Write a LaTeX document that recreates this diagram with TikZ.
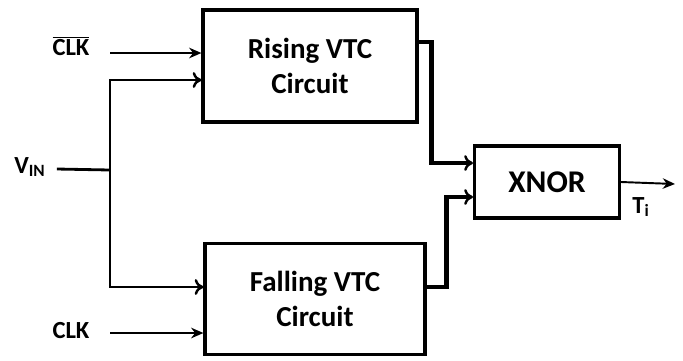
\documentclass[tikz,border=0pt]{standalone}
\usepackage{fontspec}
\setmainfont{Carlito}
\usetikzlibrary{arrows.meta}

\tikzset{
  block/.style={draw, line width=1.8pt, align=center, font=\fontsize{16.5}{20}\selectfont\bfseries},
  lbl/.style={font=\fontsize{14}{16}\selectfont\bfseries, inner sep=1pt},
  wire/.style={line width=1.6pt},
  sig/.style={line width=1.6pt, -{Stealth[length=7pt,width=6pt]}},
  open/.style={line width=1.6pt, -{To[length=5pt,width=9pt,line width=1.4pt]}},
  bus/.style={line width=2.6pt, -{To[length=5pt,width=9pt,line width=1.4pt]}}
}

\begin{document}
\begin{tikzpicture}[x=0.02cm, y=-0.02cm]
  \useasboundingbox (0,0) rectangle (683,360);

  % the three blocks
  \node[block, minimum width=4.28cm, minimum height=2.24cm] (rising) at (310,66) {Rising VTC\\Circuit};
  \node[block, minimum width=4.4cm, minimum height=2.22cm] (falling) at (315,299) {Falling VTC\\Circuit};
  \node[block, minimum width=2.9cm, minimum height=1.44cm, font=\fontsize{18}{20}\selectfont\bfseries] (xnor) at (547,182) {XNOR};

  % input labels
  \node[lbl] (clkbar) at (71,46) {$\overline{\mbox{\bfseries CLK}}$};
  \node[lbl] (vin) at (30,167) {V\textsubscript{IN}};
  \node[lbl] (clk) at (71,331) {CLK};
  \node[lbl] (ti) at (641,207) {T\textsubscript{i}};

  % clock inputs
  \coordinate (clkbarin) at (110,53);
  \coordinate (clkin) at (110,333);
  \draw[sig] (clkbarin) -- (rising.west |- clkbarin);
  \draw[sig] (clkin) -- (falling.west |- clkin);

  % V_IN split to both blocks
  \coordinate (split) at (110,170);
  \draw[wire] (vin.east) ++(9,2) -- (split);
  \draw[open] (split) |- ([yshift=-0.28cm]rising.west);
  \draw[open] (split) |- ([yshift=0.24cm]falling.west);

  % block outputs into the XNOR
  \draw[bus] ([yshift=0.48cm]rising.east) -- ++(0.26cm,0) |- ([yshift=0.38cm]xnor.west);
  \draw[bus] ([yshift=0.24cm]falling.east) -- ++(0.4cm,0) |- ([yshift=-0.3cm]xnor.west);

  % output
  \coordinate (out) at (675,184);
  \draw[line width=1.1pt, -{Stealth[length=7pt,width=6pt]}] (xnor.east) -- (out);
\end{tikzpicture}
\end{document}
